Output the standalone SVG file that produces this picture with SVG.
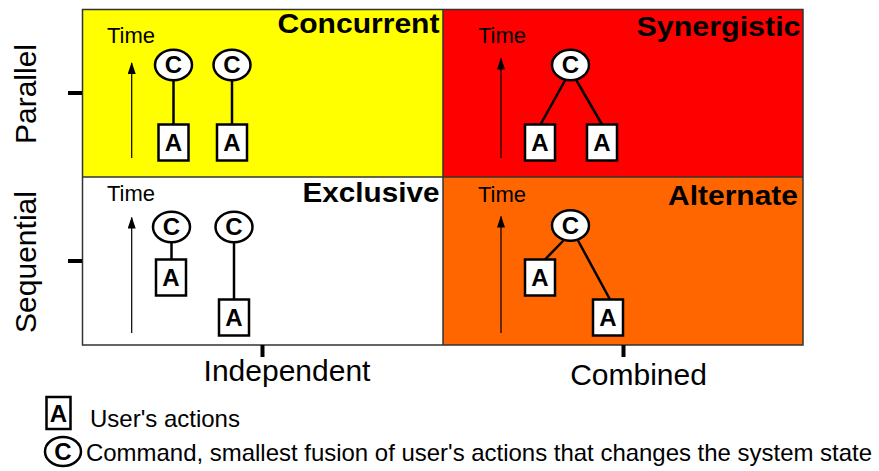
<svg xmlns="http://www.w3.org/2000/svg" width="879" height="471" viewBox="0 0 879 471">
<style>
text{font-family:"Liberation Sans",Arial,sans-serif;fill:#000}
.title{font-size:27px;font-weight:bold;text-anchor:end}
.time{font-size:22px}
.axis{font-size:30px;text-anchor:middle}
.lbl{font-size:24px;font-weight:bold;text-anchor:middle}
.leg{font-size:24px}
.cn{fill:#fff;stroke:#000;stroke-width:2.5}
.an{fill:#fff;stroke:#000;stroke-width:2.5}
.edge{stroke:#000;stroke-width:2.5;fill:none}
.tarrow{stroke:#000;stroke-width:1.2;fill:none}
.tick{stroke:#000;stroke-width:4}
.grid{stroke:#333;stroke-width:1.5;fill:none}
</style>
<defs>
<marker id="ah" viewBox="0 0 12 8" refX="11" refY="4" markerWidth="12" markerHeight="8" markerUnits="userSpaceOnUse" orient="auto">
<path d="M0,0 L12,4 L0,8 Z" fill="#000"/>
</marker>
</defs>

<g id="quadrants">
<rect x="82.5" y="9.5" width="360.5" height="167.5" fill="#ffff00"/>
<rect x="443" y="9.5" width="360" height="167.5" fill="#ff0000"/>
<rect x="82.5" y="177" width="360.5" height="168" fill="#ffffff"/>
<rect x="443" y="177" width="360" height="168" fill="#ff6600"/>
<rect class="grid" x="82.5" y="9.5" width="720.5" height="335.5"/>
<line class="grid" x1="443" y1="9.5" x2="443" y2="345"/>
<line class="grid" x1="82.5" y1="177" x2="803" y2="177"/>
</g>

<g id="axes">
<line class="tick" x1="68" y1="93" x2="82" y2="93"/>
<line class="tick" x1="68" y1="261" x2="82" y2="261"/>
<line class="tick" x1="262.5" y1="345" x2="262.5" y2="357"/>
<line class="tick" x1="623.5" y1="345" x2="623.5" y2="357"/>
<text class="axis" transform="translate(36,94) rotate(-90)">Parallel</text>
<text class="axis" transform="translate(36,262) rotate(-90)">Sequential</text>
<text class="axis" x="287" y="381">Independent</text>
<text class="axis" x="638.5" y="385">Combined</text>
</g>

<g id="titles">
<text class="title" x="439.5" y="33.3" textLength="162" lengthAdjust="spacingAndGlyphs">Concurrent</text>
<text class="title" x="800.5" y="36" textLength="164" lengthAdjust="spacingAndGlyphs">Synergistic</text>
<text class="title" x="439.5" y="201.7" textLength="137" lengthAdjust="spacingAndGlyphs">Exclusive</text>
<text class="title" x="798" y="205" textLength="130" lengthAdjust="spacingAndGlyphs">Alternate</text>
</g>

<g id="time-axes">
<text class="time" x="107" y="42.5">Time</text>
<text class="time" x="478" y="42.5">Time</text>
<text class="time" x="107" y="200.7">Time</text>
<text class="time" x="478" y="201.7">Time</text>
<line class="tarrow" x1="131.7" y1="158" x2="131.7" y2="63" marker-end="url(#ah)"/>
<line class="tarrow" x1="501" y1="158" x2="501" y2="58.5" marker-end="url(#ah)"/>
<line class="tarrow" x1="131.7" y1="333" x2="131.7" y2="217.5" marker-end="url(#ah)"/>
<line class="tarrow" x1="501" y1="333" x2="501" y2="216.5" marker-end="url(#ah)"/>
</g>

<g id="connectors">
<line class="edge" x1="173.5" y1="80" x2="173.5" y2="124.5"/>
<line class="edge" x1="232" y1="80" x2="232" y2="124.5"/>
<line class="edge" x1="565" y1="80.5" x2="540.5" y2="124.5"/>
<line class="edge" x1="576.5" y1="80.5" x2="602" y2="124.5"/>
<line class="edge" x1="171.5" y1="242.5" x2="171.5" y2="259.5"/>
<line class="edge" x1="234" y1="242.5" x2="234" y2="299.5"/>
<line class="edge" x1="563.5" y1="240.5" x2="545" y2="259.5"/>
<line class="edge" x1="578" y1="240.5" x2="610" y2="299.5"/>
</g>

<g id="concurrent-c1"><ellipse class="cn" cx="173.5" cy="65" rx="18.5" ry="15.2"/><text class="lbl" x="173.5" y="73">C</text></g>
<g id="concurrent-c2"><ellipse class="cn" cx="232" cy="65" rx="18.5" ry="15.2"/><text class="lbl" x="232" y="73">C</text></g>
<g id="concurrent-a1"><rect class="an" x="158.5" y="124.5" width="30" height="36"/><text class="lbl" x="173.5" y="151">A</text></g>
<g id="concurrent-a2"><rect class="an" x="217" y="124.5" width="30" height="36"/><text class="lbl" x="232" y="151">A</text></g>

<g id="synergistic-c"><ellipse class="cn" cx="570.5" cy="65" rx="18.5" ry="15.2"/><text class="lbl" x="570.5" y="73">C</text></g>
<g id="synergistic-a1"><rect class="an" x="525" y="124.5" width="30" height="36"/><text class="lbl" x="540" y="151">A</text></g>
<g id="synergistic-a2"><rect class="an" x="587" y="124.5" width="30" height="36"/><text class="lbl" x="602" y="151">A</text></g>

<g id="exclusive-c1"><ellipse class="cn" cx="171.5" cy="227" rx="18.5" ry="15.2"/><text class="lbl" x="171.5" y="235">C</text></g>
<g id="exclusive-a1"><rect class="an" x="156" y="259.5" width="30" height="36"/><text class="lbl" x="171" y="286">A</text></g>
<g id="exclusive-c2"><ellipse class="cn" cx="234" cy="227" rx="18.5" ry="15.2"/><text class="lbl" x="234" y="235">C</text></g>
<g id="exclusive-a2"><rect class="an" x="219" y="299.5" width="30" height="36"/><text class="lbl" x="234" y="326">A</text></g>

<g id="alternate-c"><ellipse class="cn" cx="570.5" cy="225.5" rx="18.5" ry="15.2"/><text class="lbl" x="570.5" y="233.5">C</text></g>
<g id="alternate-a1"><rect class="an" x="525" y="259.5" width="30" height="36"/><text class="lbl" x="540" y="286">A</text></g>
<g id="alternate-a2"><rect class="an" x="593" y="299.5" width="30" height="36"/><text class="lbl" x="608" y="326">A</text></g>

<g id="legend">
<rect class="an" x="46.5" y="397" width="24" height="32"/><text class="lbl" x="58.5" y="421.5">A</text>
<text class="leg" x="90" y="427">User's actions</text>
<ellipse class="cn" cx="63" cy="451.5" rx="18" ry="14.5"/><text class="lbl" x="63" y="459.5">C</text>
<text class="leg" x="86" y="461" textLength="786" lengthAdjust="spacingAndGlyphs">Command, smallest fusion of user's actions that changes the system state</text>
</g>
</svg>
